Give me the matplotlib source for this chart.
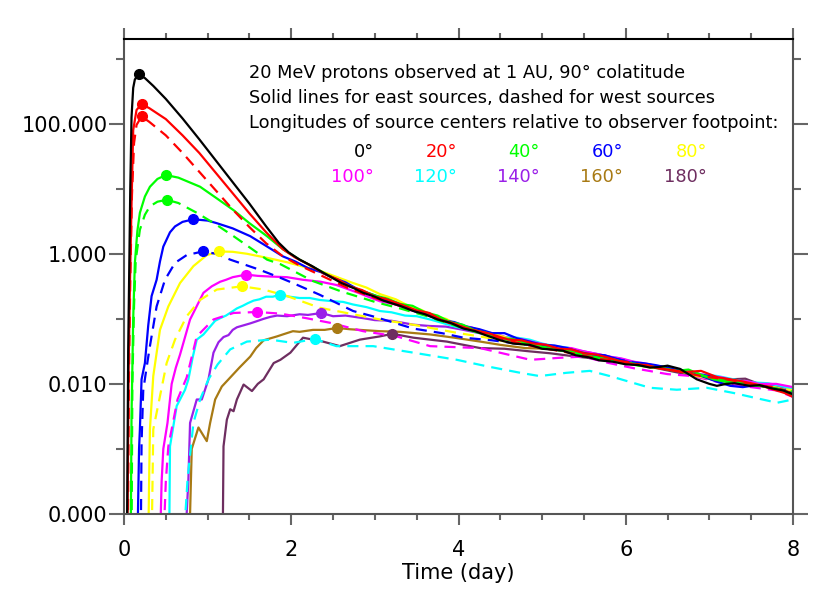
import matplotlib
matplotlib.use('Agg')
import matplotlib.pyplot as plt
import numpy as np
from matplotlib.ticker import FixedLocator, FixedFormatter, NullFormatter, MultipleLocator

# (time in days, log10 of flux), one list per source
e0 = [(0.035, -4.5), (0.05, -1.5), (0.065, 0.0), (0.075, 1.0), (0.09, 2.1), (0.11, 2.55), (0.13, 2.68),
      (0.18, 2.76), (0.25, 2.70), (0.35, 2.58), (0.5, 2.38), (0.7, 2.08), (0.9, 1.76), (1.1, 1.43),
      (1.3, 1.10), (1.5, 0.77), (1.7, 0.42), (1.85, 0.17), (1.97, 0.02), (2.1, -0.09), (2.25, -0.19),
      (2.38, -0.29), (2.6, -0.45), (2.75, -0.53), (2.86, -0.60), (3.0, -0.66), (3.1, -0.72), (3.3, -0.80),
      (3.46, -0.88), (3.6, -0.93), (3.75, -1.01), (3.9, -1.06), (4.06, -1.15), (4.2, -1.19), (4.3, -1.24),
      (4.5, -1.33), (4.65, -1.38), (4.85, -1.40), (5.0, -1.46), (5.09, -1.47), (5.25, -1.49), (5.4, -1.56),
      (5.55, -1.59), (5.69, -1.64), (5.85, -1.66), (6.0, -1.70), (6.15, -1.71), (6.29, -1.75), (6.4, -1.74),
      (6.5, -1.72), (6.65, -1.77), (6.75, -1.85), (6.85, -1.93), (7.0, -2.00), (7.09, -2.03), (7.2, -2.00),
      (7.3, -1.99), (7.48, -2.03), (7.6, -2.02), (7.75, -2.07), (7.88, -2.10), (8.0, -2.16)]
e20 = [(0.04, -4.5), (0.055, -1.8), (0.072, -0.4), (0.092, 0.88), (0.11, 1.9), (0.15, 2.21), (0.21, 2.30),
       (0.3, 2.24), (0.5, 2.07), (0.7, 1.82), (0.9, 1.55), (1.1, 1.24), (1.3, 0.93), (1.5, 0.62), (1.7, 0.33),
       (1.9, 0.07), (2.05, -0.06), (2.2, -0.16), (2.4, -0.31), (2.55, -0.39), (2.7, -0.50), (2.85, -0.56),
       (3.0, -0.66), (3.12, -0.69), (3.25, -0.75), (3.5, -0.87), (3.65, -0.91), (3.8, -1.02), (3.95, -1.07),
       (4.1, -1.15), (4.35, -1.22), (4.6, -1.32), (4.75, -1.33), (4.9, -1.38), (5.05, -1.40), (5.2, -1.46),
       (5.35, -1.47), (5.5, -1.53), (5.65, -1.55), (5.8, -1.60), (5.95, -1.66), (6.1, -1.70), (6.25, -1.71),
       (6.4, -1.76), (6.55, -1.79), (6.7, -1.82), (6.9, -1.80), (7.1, -1.90), (7.35, -1.95), (7.6, -2.02),
       (7.8, -2.10), (7.9, -2.14), (8.0, -2.20)]
w20 = [(0.045, -4.5), (0.06, -1.8), (0.075, -0.4), (0.095, 0.9), (0.12, 1.7), (0.15, 1.98), (0.21, 2.11),
       (0.3, 2.03), (0.5, 1.82), (0.7, 1.55), (0.9, 1.26), (1.1, 0.97), (1.3, 0.68), (1.5, 0.41), (1.7, 0.16),
       (1.9, -0.04), (2.1, -0.18), (2.4, -0.36), (2.7, -0.54), (3.0, -0.68), (3.3, -0.80), (3.6, -0.93),
       (3.9, -1.07), (4.2, -1.18), (4.5, -1.30), (4.8, -1.40), (5.1, -1.47), (5.4, -1.54), (5.7, -1.62),
       (6.0, -1.66), (6.3, -1.74), (6.6, -1.80), (6.9, -1.88), (7.2, -1.93), (7.5, -2.00), (7.8, -2.06),
       (8.0, -2.15)]
e40 = [(0.08, -4.5), (0.09, -2.5), (0.11, -1.0), (0.13, -0.14), (0.16, 0.35), (0.19, 0.63), (0.25, 0.88),
       (0.31, 1.03), (0.4, 1.15), (0.5, 1.21), (0.65, 1.17), (0.91, 1.03), (1.1, 0.86), (1.31, 0.67),
       (1.5, 0.47), (1.71, 0.27), (1.9, 0.07), (2.1, -0.09), (2.4, -0.30), (2.7, -0.50), (3.0, -0.64),
       (3.15, -0.69), (3.3, -0.77), (3.45, -0.80), (3.6, -0.90), (3.75, -0.95), (3.9, -1.05), (4.05, -1.09),
       (4.2, -1.18), (4.35, -1.22), (4.5, -1.30), (4.65, -1.31), (4.8, -1.37), (4.95, -1.42), (5.1, -1.45),
       (5.25, -1.47), (5.4, -1.52), (5.55, -1.57), (5.7, -1.60), (5.85, -1.62), (6.0, -1.68), (6.15, -1.72),
       (6.3, -1.74), (6.45, -1.76), (6.6, -1.80), (6.75, -1.78), (6.9, -1.86), (7.05, -1.93), (7.2, -1.97),
       (7.35, -1.97), (7.5, -2.02), (7.65, -2.04), (7.8, -2.08), (8.0, -2.18)]
w40 = [(0.09, -4.5), (0.10, -2.0), (0.12, -0.8), (0.14, -0.1), (0.19, 0.37), (0.25, 0.60), (0.31, 0.73),
       (0.4, 0.80), (0.51, 0.83), (0.65, 0.78), (0.87, 0.63), (1.1, 0.45), (1.31, 0.27), (1.5, 0.10),
       (1.71, -0.09), (1.87, -0.16), (2.26, -0.42), (2.6, -0.58), (3.0, -0.74), (3.3, -0.84), (3.6, -0.95),
       (3.9, -1.08), (4.2, -1.20), (4.5, -1.30), (4.8, -1.38), (5.1, -1.46), (5.4, -1.53), (5.7, -1.61),
       (6.0, -1.67), (6.3, -1.73), (6.6, -1.80), (6.9, -1.87), (7.2, -1.95), (7.5, -2.00), (7.8, -2.07),
       (8.0, -2.12)]
e60 = [(0.16, -4.5), (0.18, -3.0), (0.19, -2.7), (0.21, -1.93), (0.25, -1.68), (0.29, -1.1), (0.33, -0.65),
       (0.39, -0.40), (0.43, -0.12), (0.47, 0.11), (0.55, 0.33), (0.61, 0.42), (0.7, 0.49), (0.83, 0.53),
       (1.0, 0.51), (1.11, 0.47), (1.3, 0.39), (1.51, 0.27), (1.7, 0.12), (1.9, -0.04), (2.05, -0.12),
       (2.2, -0.22), (2.35, -0.28), (2.5, -0.37), (2.65, -0.44), (2.8, -0.55), (3.0, -0.64), (3.2, -0.75),
       (3.35, -0.80), (3.5, -0.90), (3.65, -0.94), (3.8, -1.02), (3.95, -1.05), (4.1, -1.12), (4.25, -1.16),
       (4.4, -1.22), (4.55, -1.22), (4.7, -1.30), (4.85, -1.35), (5.0, -1.40), (5.15, -1.41), (5.3, -1.45),
       (5.45, -1.51), (5.6, -1.55), (5.75, -1.56), (5.9, -1.62), (6.05, -1.67), (6.2, -1.68), (6.35, -1.71),
       (6.5, -1.75), (6.65, -1.80), (6.8, -1.83), (6.95, -1.90), (7.1, -1.97), (7.25, -2.03), (7.4, -2.05),
       (7.55, -2.02), (7.7, -2.05), (7.85, -2.10), (8.0, -2.14)]
w60 = [(0.2, -4.5), (0.21, -2.9), (0.23, -2.1), (0.27, -1.75), (0.31, -1.42), (0.39, -0.81), (0.49, -0.40),
       (0.61, -0.14), (0.75, -0.02), (0.94, 0.035), (1.1, 0.0), (1.27, -0.09), (1.45, -0.17), (1.63, -0.25),
       (1.87, -0.37), (2.02, -0.45), (2.34, -0.63), (2.74, -0.88), (3.0, -0.97), (3.46, -1.15), (3.8, -1.22),
       (4.06, -1.29), (4.4, -1.33), (4.7, -1.38), (5.0, -1.42), (5.3, -1.50), (5.6, -1.56), (5.9, -1.62),
       (6.2, -1.70), (6.5, -1.76), (6.8, -1.84), (7.1, -1.90), (7.4, -1.98), (7.7, -2.05), (8.0, -2.12)]
e80 = [(0.29, -4.5), (0.30, -3.5), (0.31, -2.7), (0.35, -1.88), (0.43, -1.17), (0.53, -0.81), (0.67, -0.45),
       (0.83, -0.19), (0.99, -0.02), (1.14, 0.035), (1.3, 0.03), (1.47, 0.0), (1.7, -0.06), (1.95, -0.13),
       (2.15, -0.20), (2.34, -0.26), (2.55, -0.36), (2.74, -0.45), (2.9, -0.52), (3.06, -0.62), (3.25, -0.70),
       (3.4, -0.80), (3.55, -0.86), (3.7, -0.95), (3.85, -1.00), (4.0, -1.10), (4.15, -1.14), (4.3, -1.22),
       (4.45, -1.24), (4.6, -1.30), (4.75, -1.36), (4.9, -1.40), (5.05, -1.41), (5.2, -1.46), (5.35, -1.50),
       (5.5, -1.52), (5.65, -1.58), (5.8, -1.62), (5.95, -1.64), (6.1, -1.70), (6.25, -1.74), (6.4, -1.76),
       (6.55, -1.77), (6.7, -1.82), (6.85, -1.88), (7.0, -1.92), (7.15, -1.93), (7.3, -1.97), (7.45, -2.01),
       (7.6, -2.03), (7.8, -2.06), (8.0, -2.12)]
w80 = [(0.33, -4.5), (0.35, -2.7), (0.43, -2.19), (0.51, -1.68), (0.61, -1.32), (0.75, -0.96), (0.91, -0.71),
       (1.11, -0.55), (1.41, -0.50), (1.67, -0.55), (1.95, -0.65), (2.34, -0.83), (2.74, -0.93), (3.06, -1.01),
       (3.5, -1.10), (4.0, -1.22), (4.3, -1.28), (4.6, -1.36), (4.9, -1.42), (5.2, -1.48), (5.5, -1.55),
       (5.8, -1.63), (6.1, -1.68), (6.4, -1.74), (6.7, -1.82), (7.0, -1.90), (7.3, -1.96), (7.6, -2.02),
       (8.0, -2.10)]
e100 = [(0.43, -4.5), (0.45, -3.5), (0.47, -3.0), (0.52, -2.6), (0.57, -2.0), (0.62, -1.75), (0.67, -1.55),
        (0.79, -1.01), (0.95, -0.60), (1.05, -0.50), (1.15, -0.43), (1.22, -0.40), (1.3, -0.36), (1.38, -0.34),
        (1.46, -0.32), (1.6, -0.34), (1.75, -0.35), (1.95, -0.36), (2.14, -0.40), (2.35, -0.43), (2.54, -0.48),
        (2.8, -0.60), (3.06, -0.73), (3.25, -0.78), (3.4, -0.86), (3.55, -0.90), (3.7, -0.98), (3.85, -1.02),
        (4.0, -1.10), (4.15, -1.13), (4.3, -1.20), (4.45, -1.23), (4.6, -1.30), (4.75, -1.31), (4.9, -1.36),
        (5.05, -1.40), (5.2, -1.44), (5.35, -1.45), (5.5, -1.50), (5.65, -1.54), (5.8, -1.58), (5.95, -1.61),
        (6.1, -1.66), (6.25, -1.69), (6.4, -1.74), (6.55, -1.75), (6.7, -1.80), (6.85, -1.84), (7.0, -1.88),
        (7.15, -1.90), (7.3, -1.95), (7.45, -1.96), (7.6, -2.00), (7.8, -2.00), (8.0, -2.05)]
w100 = [(0.47, -4.5), (0.5, -3.5), (0.53, -2.96), (0.64, -2.24), (0.75, -1.9), (0.87, -1.27), (1.07, -1.01),
        (1.31, -0.91), (1.59, -0.895), (1.87, -0.92), (2.18, -0.99), (2.46, -1.06), (2.86, -1.19),
        (3.26, -1.27), (3.66, -1.42), (4.26, -1.45), (4.86, -1.63), (5.2, -1.60), (5.49, -1.58), (5.8, -1.68),
        (6.1, -1.76), (6.5, -1.85), (6.8, -1.88), (7.1, -1.97), (7.5, -2.05), (7.8, -2.10), (8.0, -2.2)]
e120 = [(0.54, -4.5), (0.55, -2.96), (0.63, -2.34), (0.73, -2.09), (0.77, -1.93), (0.82, -1.6), (0.87, -1.32),
        (0.95, -1.24), (1.03, -1.12), (1.09, -1.03), (1.15, -0.99), (1.22, -0.95), (1.28, -0.90), (1.35, -0.84),
        (1.42, -0.80), (1.48, -0.76), (1.55, -0.72), (1.62, -0.70), (1.7, -0.66), (1.78, -0.66), (1.86, -0.63),
        (1.98, -0.66), (2.1, -0.68), (2.22, -0.68), (2.34, -0.71), (2.5, -0.73), (2.62, -0.74), (2.74, -0.78),
        (2.9, -0.82), (3.06, -0.88), (3.2, -0.90), (3.36, -0.95), (3.5, -0.96), (3.66, -1.01), (3.8, -1.06),
        (3.96, -1.12), (4.1, -1.16), (4.26, -1.22), (4.4, -1.24), (4.55, -1.28), (4.7, -1.29), (4.85, -1.32),
        (5.0, -1.38), (5.15, -1.42), (5.3, -1.44), (5.45, -1.50), (5.6, -1.54), (5.75, -1.58), (5.9, -1.60),
        (6.05, -1.65), (6.2, -1.69), (6.35, -1.72), (6.5, -1.74), (6.65, -1.78), (6.8, -1.83), (6.95, -1.86),
        (7.1, -1.88), (7.25, -1.92), (7.4, -1.96), (7.55, -1.98), (7.7, -1.99), (7.85, -2.03), (8.0, -2.08)]
w120 = [(0.71, -4.5), (0.76, -3.47), (0.83, -2.6), (0.91, -2.24), (1.01, -1.93), (1.12, -1.7), (1.27, -1.47),
        (1.47, -1.35), (1.75, -1.32), (2.02, -1.37), (2.28, -1.31), (2.54, -1.42), (2.98, -1.42), (3.46, -1.52),
        (3.98, -1.63), (4.34, -1.73), (4.74, -1.83), (4.97, -1.88), (5.29, -1.83), (5.57, -1.80), (5.81, -1.88),
        (6.29, -2.06), (6.61, -2.09), (6.97, -2.06), (7.29, -2.14), (7.53, -2.21), (7.81, -2.29), (8.0, -2.24)]
e140 = [(0.73, -4.5), (0.77, -3.47), (0.79, -2.6), (0.87, -2.24), (0.93, -2.24), (1.01, -1.93), (1.07, -1.52),
        (1.13, -1.36), (1.19, -1.28), (1.25, -1.25), (1.3, -1.17), (1.35, -1.13), (1.43, -1.10), (1.51, -1.07),
        (1.58, -1.04), (1.67, -1.00), (1.75, -0.97), (1.83, -0.95), (1.95, -0.96), (2.1, -0.93), (2.2, -0.94),
        (2.36, -0.91), (2.5, -0.96), (2.65, -0.95), (2.86, -0.99), (3.0, -1.02), (3.2, -1.03), (3.46, -1.09),
        (3.65, -1.11), (3.85, -1.12), (4.06, -1.17), (4.25, -1.22), (4.45, -1.27), (4.65, -1.32), (4.85, -1.36),
        (5.05, -1.42), (5.2, -1.45), (5.45, -1.49), (5.7, -1.55), (5.95, -1.63), (6.2, -1.70), (6.45, -1.74),
        (6.7, -1.80), (6.95, -1.87), (7.2, -1.95), (7.4, -1.96), (7.6, -2.00), (7.8, -2.03), (8.0, -2.10)]
e160 = [(0.78, -4.5), (0.81, -3.0), (0.89, -2.67), (0.99, -2.88), (1.03, -2.6), (1.09, -2.24), (1.17, -2.04),
        (1.25, -1.93), (1.38, -1.75), (1.51, -1.58), (1.58, -1.45), (1.67, -1.33), (1.75, -1.30), (1.83, -1.27),
        (1.9, -1.24), (2.02, -1.19), (2.1, -1.20), (2.26, -1.17), (2.4, -1.17), (2.55, -1.14), (2.7, -1.16),
        (2.82, -1.17), (3.06, -1.19), (3.3, -1.20), (3.66, -1.24), (3.95, -1.29), (4.26, -1.35), (4.5, -1.40),
        (4.8, -1.45), (5.05, -1.46), (5.3, -1.50), (5.55, -1.57), (5.8, -1.62), (6.05, -1.66), (6.3, -1.72),
        (6.55, -1.78), (6.8, -1.85), (7.05, -1.92), (7.3, -1.98), (7.5, -1.99), (7.7, -2.02), (8.0, -2.10)]
e180 = [(1.18, -4.5), (1.19, -2.96), (1.23, -2.55), (1.27, -2.39), (1.31, -2.42), (1.35, -2.24), (1.43, -2.01),
        (1.53, -2.11), (1.6, -2.0), (1.67, -1.93), (1.79, -1.68), (1.87, -1.63), (1.99, -1.52), (2.14, -1.29),
        (2.38, -1.35), (2.58, -1.42), (2.82, -1.32), (3.06, -1.27), (3.21, -1.23), (3.46, -1.29), (3.86, -1.35),
        (4.26, -1.45), (4.55, -1.46), (4.85, -1.50), (5.1, -1.53), (5.4, -1.58), (5.7, -1.62), (6.0, -1.68),
        (6.3, -1.74), (6.6, -1.82), (6.85, -1.88), (7.1, -1.95), (7.25, -1.93), (7.43, -1.92), (7.55, -1.98),
        (7.7, -2.05), (8.0, -2.12)]

lon_labels = ['0°', '20°', '40°', '60°', '80°', '100°', '120°', '140°', '160°', '180°']
lon_colors = ['black', 'red', '#00ff00', '#0000ff', '#ffff00',
              '#ff00ff', '#00ffff', '#9a1fe8', '#a87a14', '#6e2e60']

# drawn back to front so the 0 deg curve ends up on top
curves = [(e180, 9, '-'), (e160, 8, '-'), (e140, 7, '-'), (w120, 6, '--'), (e120, 6, '-'),
          (w100, 5, '--'), (e100, 5, '-'), (w80, 4, '--'), (e80, 4, '-'), (w60, 3, '--'),
          (e60, 3, '-'), (w40, 2, '--'), (e40, 2, '-'), (w20, 1, '--'), (e20, 1, '-'), (e0, 0, '-')]

fig = plt.figure(figsize=(8.3, 5.93), dpi=100)
ax = fig.add_axes([124/830, 79/593, 669/830, 475/593])

peaks = []
for pts, ci, ls in curves:
    arr = np.array(pts)
    t = arr[:, 0]
    f = 10 ** arr[:, 1]
    if ls == '--':
        ax.plot(t, f, color=lon_colors[ci], lw=1.6, ls=(0, (5, 3.2)))
    else:
        ax.plot(t, f, color=lon_colors[ci], lw=1.6)
    k = np.argmax(f)
    peaks.append((t[k], f[k], lon_colors[ci]))

for tp, fp, c in peaks:
    ax.plot(tp, fp, 'o', color=c, ms=7, zorder=5)

ax.set_yscale('log')
ax.set_xlim(0, 8)
ax.set_ylim(1e-4, 2000)

ax.yaxis.set_major_locator(FixedLocator([1e-4, 1e-2, 1, 100]))
ax.yaxis.set_major_formatter(FixedFormatter(['0.000', '0.010', '1.000', '100.000']))
ax.yaxis.set_minor_locator(FixedLocator([1e-3, 1e-1, 10, 1000]))
ax.yaxis.set_minor_formatter(NullFormatter())
ax.xaxis.set_major_locator(MultipleLocator(2))
ax.xaxis.set_minor_locator(MultipleLocator(0.5))

ax.tick_params(axis='y', which='major', direction='out', length=11, width=1.5, color='#666666',
               labelsize=15, pad=1, right=True)
ax.tick_params(axis='y', which='minor', direction='out', length=5.5, width=1.5, color='#666666', right=True)
ax.tick_params(axis='x', which='major', direction='out', length=8, width=1.5, color='#666666',
               labelsize=15, pad=11, top=True)
ax.tick_params(axis='x', which='minor', direction='out', length=4.5, width=1.5, color='#666666', top=True)

for side in ['left', 'right', 'bottom']:
    ax.spines[side].set_color('#555555')
    ax.spines[side].set_linewidth(1.5)
ax.spines['top'].set_color('black')
ax.spines['top'].set_linewidth(1.5)

ax.set_xlabel('Time (day)', fontsize=15, labelpad=2)
fig.text(5/830, 1 - 273/593, 'Omnidirectional Flux', rotation=90, ha='right', va='center', fontsize=15)

fs = 12.8
fig.text(249/830, 1 - 73/593, '20 MeV protons observed at 1 AU, 90° colatitude', fontsize=fs, va='center')
fig.text(249/830, 1 - 98/593, 'Solid lines for east sources, dashed for west sources', fontsize=fs, va='center')
fig.text(249/830, 1 - 123/593, 'Longitudes of source centers relative to observer footpoint:',
         fontsize=fs, va='center')
xr = [374, 457, 540, 623, 707]
for i in range(10):
    row = i // 5
    fig.text(xr[i % 5]/830, 1 - (152 + 25*row)/593, lon_labels[i], color=lon_colors[i],
             fontsize=fs, ha='right', va='center')

fig.savefig('out.png', dpi=100)
